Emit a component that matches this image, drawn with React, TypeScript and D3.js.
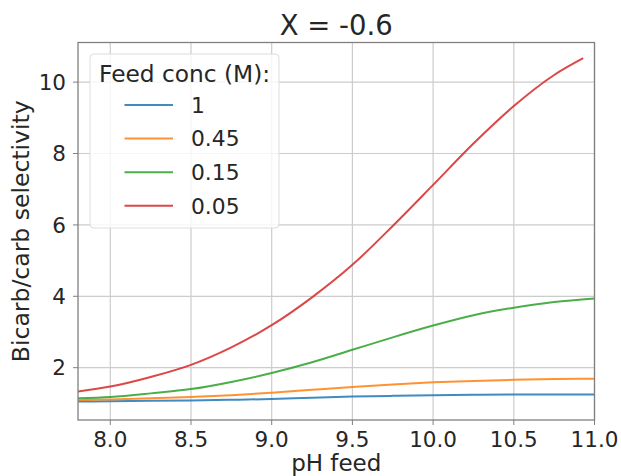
import React from "react";
import * as d3 from "d3";

const phValues = [7.8, 8.0, 8.25, 8.5, 8.75, 9.0, 9.25, 9.5, 9.75, 10.0, 10.25, 10.5, 10.75, 11.0];
const series1 = [1.05, 1.06, 1.07, 1.08, 1.10, 1.12, 1.16, 1.19, 1.21, 1.23, 1.24, 1.25, 1.25, 1.25];
const series045 = [1.09, 1.11, 1.14, 1.18, 1.23, 1.30, 1.38, 1.46, 1.53, 1.59, 1.63, 1.66, 1.68, 1.69];
const series015 = [1.14, 1.18, 1.28, 1.40, 1.60, 1.85, 2.15, 2.50, 2.85, 3.18, 3.47, 3.68, 3.84, 3.94];
const series005 = [1.33, 1.47, 1.74, 2.08, 2.57, 3.19, 3.97, 4.88, 5.97, 7.12, 8.28, 9.33, 10.2, 10.67];
const redPh = [7.8, 8.0, 8.25, 8.5, 8.75, 9.0, 9.25, 9.5, 9.75, 10.0, 10.25, 10.5, 10.75, 10.93];

const seriesNames = ["1", "0.45", "0.15", "0.05"];
const seriesColors = ["#1f77b4", "#ff7f0e", "#2ca02c", "#d62728"];
const xTicks = [8.0, 8.5, 9.0, 9.5, 10.0, 10.5, 11.0];
const yTicks = [2, 4, 6, 8, 10];

const W = 621;
const H = 476;
const left = 78;
const right = 594.5;
const top = 42.5;
const bottom = 420;
const FONT = "DejaVu Sans, sans-serif";

export default function App() {
  const x = d3.scaleLinear().domain([7.8, 11.0]).range([left, right]);
  const y = d3.scaleLinear().domain([0.534, 11.11]).range([bottom, top]);
  const all = [
    { xs: phValues, ys: series1 },
    { xs: phValues, ys: series045 },
    { xs: phValues, ys: series015 },
    { xs: redPh, ys: series005 },
  ];
  const line = d3
    .line<[number, number]>()
    .x((d) => x(d[0]))
    .y((d) => y(d[1]))
    .curve(d3.curveMonotoneX);

  const legX = 90;
  const legY = 54;
  const legW = 189;
  const legH = 174;
  const entryY0 = 105;
  const entryDy = 33.6;

  return (
    <svg
      width={W}
      height={H}
      style={{ position: "absolute", left: 0, top: 0, background: "#fff" }}
      fontFamily={FONT}
    >
      <rect x={0} y={0} width={W} height={H} fill="#fff" />
      <defs>
        <clipPath id="plotclip">
          <rect x={left} y={top} width={right - left} height={bottom - top} />
        </clipPath>
      </defs>
      {xTicks.map((t) => (
        <line key={"gx" + t} x1={x(t)} x2={x(t)} y1={top} y2={bottom} stroke="#cccccc" strokeWidth={1.2} />
      ))}
      {yTicks.map((t) => (
        <line key={"gy" + t} x1={left} x2={right} y1={y(t)} y2={y(t)} stroke="#cccccc" strokeWidth={1.2} />
      ))}
      <g clipPath="url(#plotclip)">
        {all.map((s, i) => (
          <path
            key={i}
            d={line(s.xs.map((v, j) => [v, s.ys[j]] as [number, number])) || ""}
            fill="none"
            stroke={seriesColors[i]}
            strokeWidth={2}
            strokeOpacity={0.85}
          />
        ))}
      </g>
      <rect x={left} y={top} width={right - left} height={bottom - top} fill="none" stroke="#808080" strokeWidth={1.3} />
      {xTicks.map((t) => (
        <g key={"tx" + t}>
          <line x1={x(t)} x2={x(t)} y1={bottom} y2={bottom + 5} stroke="#808080" strokeWidth={1} />
          <text x={x(t)} y={446.5} textAnchor="middle" fontSize={21.5} fill="#262626">
            {t.toFixed(1)}
          </text>
        </g>
      ))}
      {yTicks.map((t) => (
        <g key={"ty" + t}>
          <line x1={left - 5} x2={left} y1={y(t)} y2={y(t)} stroke="#808080" strokeWidth={1} />
          <text x={left - 12} y={y(t)} dy="0.36em" textAnchor="end" fontSize={21.5} fill="#262626">
            {t}
          </text>
        </g>
      ))}
      <text x={(left + right) / 2} y={35} textAnchor="middle" fontSize={27.5} fill="#262626">
        X = -0.6
      </text>
      <text x={(left + right) / 2} y={471} textAnchor="middle" fontSize={23} fill="#262626">
        pH feed
      </text>
      <text
        transform={`translate(${28.5},${(top + bottom) / 2}) rotate(-90)`}
        textAnchor="middle"
        fontSize={23.5}
        fill="#262626"
      >
        Bicarb/carb selectivity
      </text>
      <rect x={legX} y={legY} width={legW} height={legH} rx={4} ry={4} fill="#ffffff" fillOpacity={0.8} stroke="#dddddd" strokeWidth={1} />
      <text x={99} y={81.5} fontSize={23.3} fill="#262626">
        Feed conc (M):
      </text>
      {seriesNames.map((n, i) => (
        <g key={"leg" + n}>
          <line
            x1={124.5}
            x2={173}
            y1={entryY0 + i * entryDy}
            y2={entryY0 + i * entryDy}
            stroke={seriesColors[i]}
            strokeWidth={2}
            strokeOpacity={0.85}
          />
          <text x={191} y={entryY0 + i * entryDy} dy="0.36em" fontSize={21.8} fill="#262626">
            {n}
          </text>
        </g>
      ))}
    </svg>
  );
}
